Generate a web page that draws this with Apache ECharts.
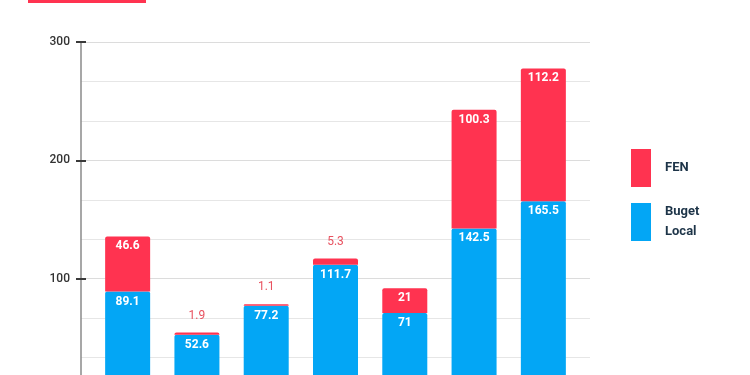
<!DOCTYPE html>
<html>
<head>
<meta charset="utf-8">
<script src="https://cdn.jsdelivr.net/npm/echarts@6/dist/echarts.min.js"></script>
<style>
  html, body { margin: 0; padding: 0; background: #ffffff; }
  #chart { width: 750px; height: 375px; }
</style>
</head>
<body>
<div id="chart"></div>
<script>
// categories sit below the visible crop, labels are not readable
var categories = ['1', '2', '3', '4', '5', '6', '7'];
var bugetLocal = [89.1, 52.6, 77.2, 111.7, 71, 142.5, 165.5];
var fen = [46.6, 1.9, 1.1, 5.3, 21, 100.3, 112.2];
var yTicks = [0, 100, 200, 300];

var RED = '#ff3350';
var BLUE = '#03a6f5';

var chart = echarts.init(document.getElementById('chart'), null, { renderer: 'canvas' });

var fenData = fen.map(function (v) {
  if (v < 10) {
    return {
      value: v,
      label: { position: 'top', distance: 11, color: '#e8515f', fontWeight: 'normal' }
    };
  }
  return v;
});

var option = {
  backgroundColor: '#ffffff',
  animation: false,
  graphic: [
    { type: 'rect', left: 28, top: 0, shape: { width: 118, height: 3 }, style: { fill: RED } }
  ],
  legend: {
    orient: 'vertical',
    left: 631,
    top: 149,
    padding: 0,
    itemWidth: 20,
    itemHeight: 38,
    itemGap: 15,
    icon: 'rect',
    data: ['FEN', 'Buget Local'],
    formatter: function (name) { return name.replace(' ', '\n'); },
    textStyle: {
      color: '#1d3448',
      fontFamily: 'Roboto',
      fontWeight: 'bold',
      fontSize: 13,
      lineHeight: 20,
      padding: [0, 0, 0, 9]
    }
  },
  grid: [
    { left: 81, width: 509, top: 42, height: 355, outerBoundsMode: 'none', containLabel: false },
    { left: 93, width: 485, top: 42, height: 355, outerBoundsMode: 'none', containLabel: false }
  ],
  xAxis: [
    { type: 'category', gridIndex: 0, data: categories, show: false },
    {
      type: 'category', gridIndex: 1, data: categories,
      axisLine: { show: false }, axisTick: { show: false }, axisLabel: { show: false }
    }
  ],
  yAxis: [
    {
      type: 'value', gridIndex: 0, min: yTicks[0], max: yTicks[yTicks.length - 1], interval: 100,
      axisLine: { show: true, lineStyle: { color: '#8a8a8a', width: 1.5 } },
      axisTick: { show: true, length: 5, lineStyle: { color: '#3a3a3a', width: 2 } },
      axisLabel: { color: '#333', fontFamily: 'Roboto', fontWeight: 500, fontSize: 12, margin: 11 },
      splitLine: { show: true, lineStyle: { color: '#dcdcdc', width: 1 } },
      minorTick: { show: false, splitNumber: 3 },
      minorSplitLine: { show: true, lineStyle: { color: '#e6e6e6', width: 1 } }
    },
    {
      type: 'value', gridIndex: 1, min: yTicks[0], max: yTicks[yTicks.length - 1], interval: 100,
      offset: 12,
      axisLine: { show: false },
      axisTick: { show: true, inside: true, length: 5, lineStyle: { color: '#3a3a3a', width: 2 } },
      axisLabel: { show: false },
      splitLine: { show: false }
    }
  ],
  series: [
    {
      name: 'Buget Local',
      type: 'bar',
      stack: 'total',
      xAxisIndex: 1,
      yAxisIndex: 1,
      barWidth: 45,
      itemStyle: { color: BLUE, borderRadius: [2, 2, 0, 0] },
      label: {
        show: true, position: 'insideTop', distance: 4,
        color: '#ffffff', fontFamily: 'Roboto', fontWeight: 'bold', fontSize: 12
      },
      data: bugetLocal
    },
    {
      name: 'FEN',
      type: 'bar',
      stack: 'total',
      xAxisIndex: 1,
      yAxisIndex: 1,
      barWidth: 45,
      itemStyle: { color: RED, borderRadius: [2, 2, 0, 0] },
      label: {
        show: true, position: 'insideTop', distance: 4,
        color: '#ffffff', fontFamily: 'Roboto', fontWeight: 'bold', fontSize: 12
      },
      data: fenData
    }
  ]
};

chart.setOption(option);
</script>
</body>
</html>
